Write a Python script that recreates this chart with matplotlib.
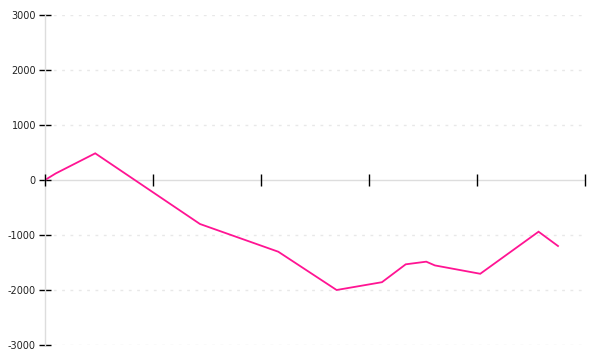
import matplotlib

matplotlib.use("Agg")

import matplotlib.pyplot as plt

# x positions in axis units (one major tick every 20), y values
x_values = [0, 2.0, 9.3, 28.7, 43.2, 54.0, 62.4, 66.8, 70.6, 72.2, 80.6, 91.4, 95.0]
y_values = [0, 120, 485, -800, -1304, -2000, -1858, -1533, -1485, -1553, -1705, -940, -1200]
x_ticks = [0, 20, 40, 60, 80, 100]
y_ticks = [-3000, -2000, -1000, 0, 1000, 2000, 3000]

LINE_COLOR = "#ff1493"
AXIS_COLOR = "#dddddd"
GRID_COLOR = "#e8e8e8"

fig = plt.figure(figsize=(6, 3.6), dpi=100)
ax = fig.add_axes([45 / 600, 15 / 360, 540 / 600, 330 / 360])

ax.plot(x_values, y_values, color=LINE_COLOR, linewidth=1.3, solid_joinstyle="miter")

ax.set_xlim(x_ticks[0], x_ticks[-1])
ax.set_ylim(y_ticks[0], y_ticks[-1])

# dotted horizontal grid, skipping zero where the x axis sits
for value in y_ticks:
    if value != 0:
        ax.axhline(value, color=GRID_COLOR, linewidth=1, linestyle=(0, (2, 4)), zorder=0)

for side in ("top", "right", "bottom"):
    ax.spines[side].set_visible(False)
ax.spines["left"].set_color(AXIS_COLOR)
ax.spines["left"].set_linewidth(1)
ax.axhline(0, color=AXIS_COLOR, linewidth=1, zorder=1)

ax.set_yticks(y_ticks)
ax.set_yticklabels([str(v) for v in y_ticks], fontsize=7, color="#222222")
ax.tick_params(axis="y", direction="inout", length=9, width=1, color="black", pad=2)

# x ticks are drawn on the zero line and carry no labels
ax.set_xticks([])
ax.plot(x_ticks, [0] * len(x_ticks), linestyle="none", marker="|", markersize=8,
        markeredgewidth=1, color="black", clip_on=False, zorder=3)

fig.savefig("out.png", dpi=100)
